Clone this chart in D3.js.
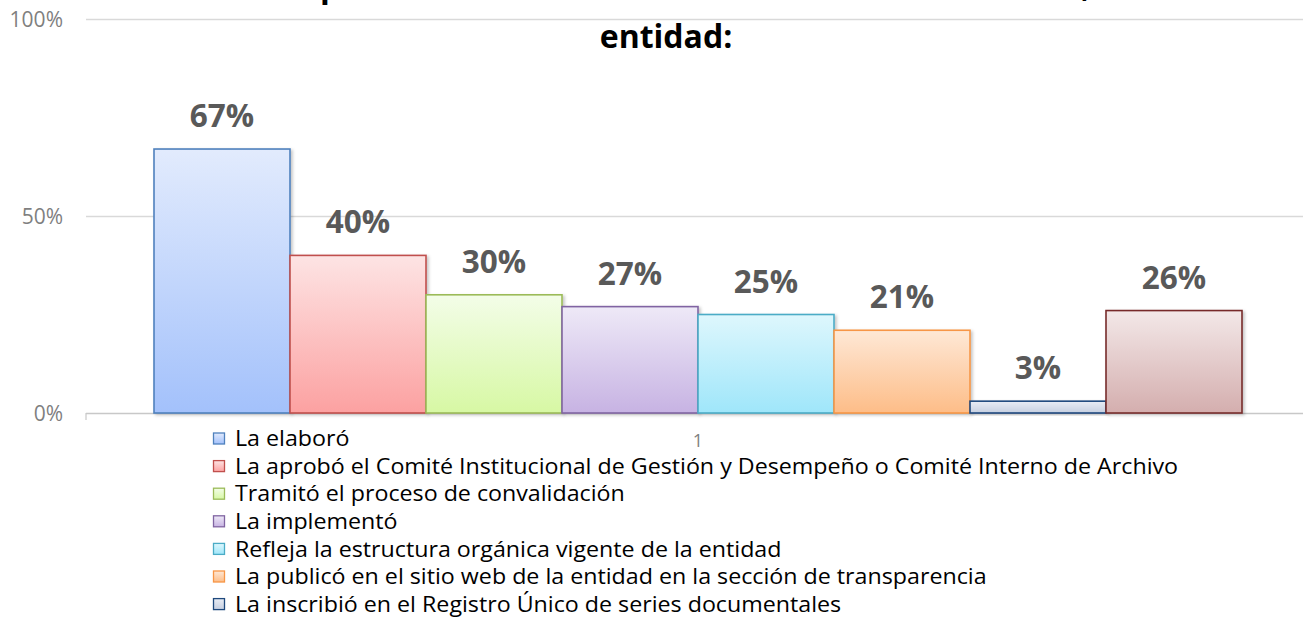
<!DOCTYPE html>
<html>
<head>
<meta charset="utf-8">
<script src="https://cdn.jsdelivr.net/npm/d3@7"></script>
<style>
  html, body { margin: 0; padding: 0; background: #fff; }
  svg { display: block; }
</style>
</head>
<body>
<svg id="chart" width="1303" height="628"></svg>
<script>
// Category, series and values
const categories = ["1"];
const seriesNames = [
  "La elaboró",
  "La aprobó el Comité Institucional de Gestión y Desempeño o Comité Interno de Archivo",
  "Tramitó el proceso de convalidación",
  "La implementó",
  "Refleja la estructura orgánica vigente de la entidad",
  "La publicó en el sitio web de la entidad en la sección de transparencia",
  "La inscribió en el Registro Único de series documentales",
  "Ninguna de las anteriores"
];
const seriesValues = [0.67, 0.40, 0.30, 0.27, 0.25, 0.21, 0.03, 0.26];
const yTicks = [0, 0.5, 1];
const titleLines = ["Respecto a la Tabla de Retención Documental - TRD, la", "entidad:"];
// legend rows that fit inside the frame
const legendRows = 7;

// Fill gradients (top, bottom) and outline per series
const palette = [
  { top: "#e2ebfd", bottom: "#a3c1fb", stroke: "#4f81bd" },
  { top: "#fde4e4", bottom: "#fca1a1", stroke: "#c0504d" },
  { top: "#f3fde8", bottom: "#d7f8a4", stroke: "#9bbb59" },
  { top: "#eee9f7", bottom: "#c7b3e3", stroke: "#8064a2" },
  { top: "#def7fd", bottom: "#9fe6fa", stroke: "#4bacc6" },
  { top: "#fee8d6", bottom: "#fdbd88", stroke: "#f79646" },
  { top: "#e9edf5", bottom: "#c6cfe0", stroke: "#1f497d" },
  { top: "#f3e8e8", bottom: "#d4aeae", stroke: "#772c2a" }
];

const svg = d3.select("#chart");
const defs = svg.append("defs");

palette.forEach((p, i) => {
  const g = defs.append("linearGradient")
    .attr("id", "grad" + i)
    .attr("x1", 0).attr("y1", 0).attr("x2", 0).attr("y2", 1);
  g.append("stop").attr("offset", "0%").attr("stop-color", p.top);
  g.append("stop").attr("offset", "100%").attr("stop-color", p.bottom);
});

const shadow = defs.append("filter").attr("id", "shadow")
  .attr("x", "-10%").attr("y", "-10%").attr("width", "130%").attr("height", "130%");
shadow.append("feDropShadow")
  .attr("dx", 2).attr("dy", 1.5).attr("stdDeviation", 1.5)
  .attr("flood-color", "#000").attr("flood-opacity", 0.22);

// Plot area
const plot = { left: 86, right: 1310, top: 19, bottom: 413 };

const y = d3.scaleLinear().domain([0, 1]).range([plot.bottom, plot.top]);
const x0 = d3.scaleBand().domain(categories).range([plot.left, plot.right]).padding(0);
const x1 = d3.scaleBand().domain(d3.range(seriesNames.length))
  .range([0, x0.bandwidth()]).paddingInner(0).paddingOuter(0.5);

// Gridlines and value axis
const yAxis = d3.axisLeft(y).tickValues(yTicks).tickFormat(d3.format(".0%"))
  .tickSize(-(plot.right - plot.left)).tickPadding(23);

const yg = svg.append("g")
  .attr("transform", `translate(${plot.left},0)`)
  .call(yAxis);
yg.select(".domain").remove();
yg.selectAll(".tick line")
  .attr("stroke", d => d === 0 ? "#c8c8c8" : "#d9d9d9")
  .attr("stroke-width", 1.5);
yg.selectAll(".tick text")
  .attr("fill", "#7f7f7f")
  .style("font-family", "'Open Sans', sans-serif")
  .style("font-size", "21px")
  .attr("dy", "0.36em");

// Category axis
const xg = svg.append("g")
  .attr("transform", `translate(0,${plot.bottom})`)
  .call(d3.axisBottom(x0).tickSizeOuter(0).tickSizeInner(0).tickPadding(21));
xg.select(".domain").remove();
xg.selectAll(".tick text")
  .attr("fill", "#7f7f7f")
  .style("font-family", "'Open Sans', sans-serif")
  .style("font-size", "18px");
svg.append("line")
  .attr("x1", plot.left).attr("x2", plot.left)
  .attr("y1", plot.bottom).attr("y2", plot.bottom + 7)
  .attr("stroke", "#c8c8c8").attr("stroke-width", 1.2);

// Bars
const barData = seriesValues.map((v, i) => ({ i, v, cat: categories[0] }));
const bars = svg.append("g");
bars.selectAll("rect")
  .data(barData)
  .join("rect")
  .attr("x", d => x0(d.cat) + x1(d.i))
  .attr("y", d => y(d.v))
  .attr("width", x1.bandwidth())
  .attr("height", d => y(0) - y(d.v))
  .attr("fill", d => `url(#grad${d.i})`)
  .attr("stroke", d => palette[d.i].stroke)
  .attr("stroke-width", 1.6)
  .attr("filter", "url(#shadow)");

// Value labels
svg.append("g").selectAll("text")
  .data(barData)
  .join("text")
  .attr("x", d => x0(d.cat) + x1(d.i) + x1.bandwidth() / 2)
  .attr("y", d => y(d.v) - 22)
  .attr("text-anchor", "middle")
  .attr("fill", "#595959")
  .style("font-family", "'Open Sans', sans-serif")
  .style("font-weight", "700")
  .style("font-size", "31.5px")
  .text(d => d3.format(".0%")(d.v));

// Title (first line runs above the top edge)
const title = svg.append("g")
  .style("font-family", "'Open Sans', sans-serif")
  .style("font-weight", "700")
  .style("font-size", "32px")
  .attr("fill", "#000");
const t1 = title.append("text")
  .attr("x", 0).attr("y", -3)
  .text(titleLines[0]);
// place the first line so its letters sit where the wrapped title runs
(function fitLine() {
  const node = t1.node();
  const s = titleLines[0];
  const ip = s.indexOf("p"), ic = s.indexOf(",");
  const ep = node.getExtentOfChar(ip), ec = node.getExtentOfChar(ic);
  const cp = ep.x + ep.width * 0.25, cc = ec.x + ec.width / 2;
  const k = (1086 - 325) / (cc - cp);
  const total = node.getComputedTextLength();
  const x = 325 - cp * k;
  t1.attr("x", x).attr("textLength", total * k).attr("lengthAdjust", "spacingAndGlyphs");
})();
title.append("text")
  .attr("x", 666).attr("y", 48)
  .attr("text-anchor", "middle")
  .text(titleLines[1]);

// Legend
const legend = svg.append("g").attr("transform", "translate(213,438.5)");
const rows = legend.selectAll("g")
  .data(seriesNames.slice(0, legendRows).map((n, i) => ({ n, i })))
  .join("g")
  .attr("transform", d => `translate(0,${d.i * 27.6})`);
rows.append("rect")
  .attr("x", 0.5).attr("y", -5.5)
  .attr("width", 11).attr("height", 11)
  .attr("fill", d => `url(#grad${d.i})`)
  .attr("stroke", d => palette[d.i].stroke)
  .attr("stroke-width", 1.3);
rows.append("text")
  .attr("x", 22).attr("y", 0)
  .attr("dy", "0.36em")
  .attr("fill", "#000")
  .style("font-family", "'Open Sans', sans-serif")
  .style("font-size", "21.5px")
  .text(d => d.n)
  .each(function () {
    // slightly wider letterforms
    const w = this.getComputedTextLength();
    d3.select(this).attr("textLength", w * 1.08).attr("lengthAdjust", "spacingAndGlyphs");
  });
</script>
</body>
</html>
